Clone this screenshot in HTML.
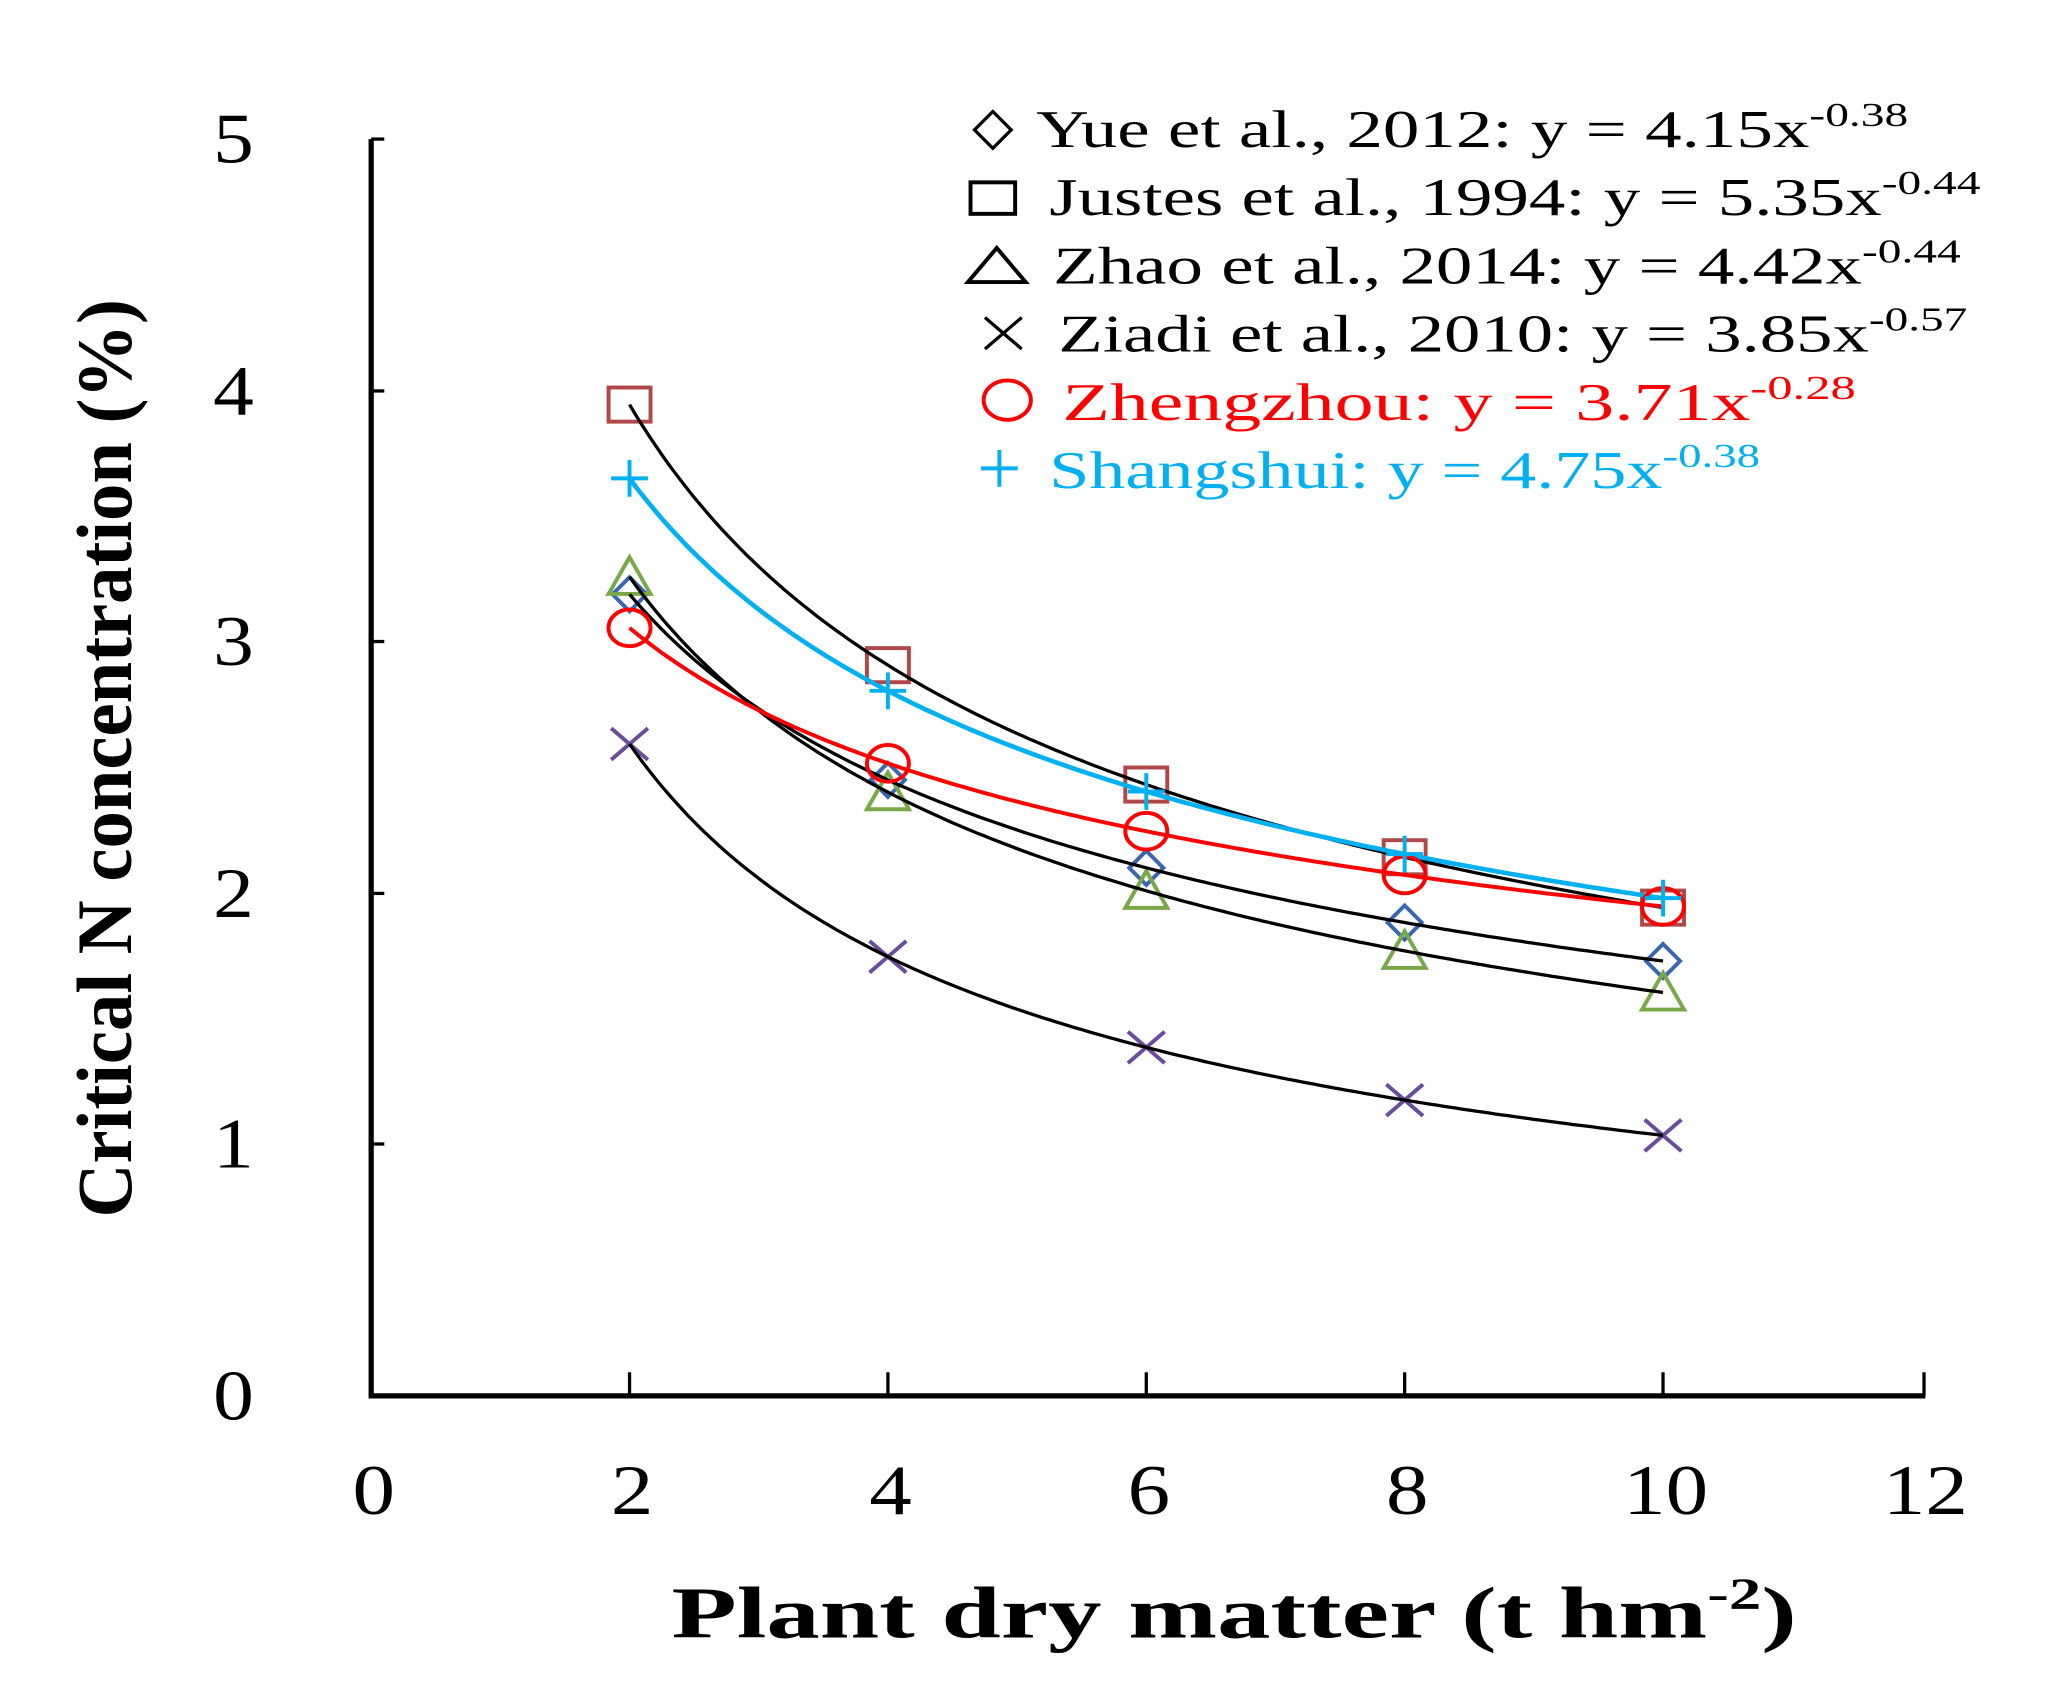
<!DOCTYPE html>
<html><head><meta charset="utf-8"><style>
html,body{margin:0;padding:0;background:#fff;}
svg{display:block;}
text{font-family:"Liberation Serif",serif;}
</style></head><body>
<svg id="s" width="2046" height="1695" viewBox="0 0 1560 1292" preserveAspectRatio="none" xmlns="http://www.w3.org/2000/svg">
<rect width="1560" height="1292" fill="#fff"/>
<path d="M283,106 L283,1064 L1468,1064" fill="none" stroke="#000" stroke-width="4"/>
<g stroke="#000" stroke-width="2.5">
<line x1="283" y1="106" x2="293" y2="106"/>
<line x1="283" y1="298" x2="293" y2="298"/>
<line x1="283" y1="489" x2="293" y2="489"/>
<line x1="283" y1="681" x2="293" y2="681"/>
<line x1="283" y1="872" x2="293" y2="872"/>
<line x1="480" y1="1064" x2="480" y2="1046"/>
<line x1="677" y1="1064" x2="677" y2="1046"/>
<line x1="874" y1="1064" x2="874" y2="1046"/>
<line x1="1071" y1="1064" x2="1071" y2="1046"/>
<line x1="1268" y1="1064" x2="1268" y2="1046"/>
<line x1="1467" y1="1064" x2="1467" y2="1046"/>
</g>
<g font-size="54" text-anchor="middle" fill="#000">
<text x="178" y="124" transform="translate(178 0) scale(1.15 1) translate(-178 0)">5</text>
<text x="178" y="316" transform="translate(178 0) scale(1.15 1) translate(-178 0)">4</text>
<text x="178" y="507" transform="translate(178 0) scale(1.15 1) translate(-178 0)">3</text>
<text x="178" y="699" transform="translate(178 0) scale(1.15 1) translate(-178 0)">2</text>
<text x="178" y="890" transform="translate(178 0) scale(1.15 1) translate(-178 0)">1</text>
<text x="178" y="1082" transform="translate(178 0) scale(1.15 1) translate(-178 0)">0</text>
<text x="285" y="1154" transform="translate(285 0) scale(1.2 1) translate(-285 0)">0</text>
<text x="482" y="1154" transform="translate(482 0) scale(1.2 1) translate(-482 0)">2</text>
<text x="679" y="1154" transform="translate(679 0) scale(1.2 1) translate(-679 0)">4</text>
<text x="876" y="1154" transform="translate(876 0) scale(1.2 1) translate(-876 0)">6</text>
<text x="1073" y="1154" transform="translate(1073 0) scale(1.2 1) translate(-1073 0)">8</text>
<text x="1270" y="1154" transform="translate(1270 0) scale(1.2 1) translate(-1270 0)">10</text>
<text x="1468" y="1154" transform="translate(1468 0) scale(1.2 1) translate(-1468 0)">12</text>
</g>
<text x="512" y="1248" font-size="56" font-weight="bold" textLength="858" lengthAdjust="spacingAndGlyphs">Plant dry matter (t hm<tspan dy="-22" font-size="34">-2</tspan><tspan dy="22">)</tspan></text>
<text transform="translate(100 928) rotate(-90)" x="0" y="0" font-size="60" font-weight="bold" textLength="700" lengthAdjust="spacingAndGlyphs">Critical N concentration (%)</text>
<g id="curves"></g>
<g font-size="40" fill="#000">
<path d="M757,85 L771,99 L757,113 L743,99 Z" fill="none" stroke="#000" stroke-width="2.5"/>
<text x="790" y="112" textLength="665" lengthAdjust="spacingAndGlyphs">Yue et al., 2012: y = 4.15x<tspan dy="-16" font-size="26">-0.38</tspan></text>
<rect x="740" y="139" width="34" height="24" fill="none" stroke="#000" stroke-width="3"/>
<text x="800" y="164" textLength="710" lengthAdjust="spacingAndGlyphs">Justes et al., 1994: y = 5.35x<tspan dy="-16" font-size="26">-0.44</tspan></text>
<path d="M738,215 L760,189 L782,215 Z" fill="none" stroke="#000" stroke-width="3"/>
<text x="803" y="216" textLength="692" lengthAdjust="spacingAndGlyphs">Zhao et al., 2014: y = 4.42x<tspan dy="-16" font-size="26">-0.44</tspan></text>
<path d="M751,242 L779,266 M779,242 L751,266" stroke="#000" stroke-width="2.5"/>
<text x="807" y="268" textLength="693" lengthAdjust="spacingAndGlyphs">Ziadi  et al., 2010: y = 3.85x<tspan dy="-16" font-size="26">-0.57</tspan></text>
<ellipse cx="768" cy="305" rx="18" ry="15" fill="none" stroke="#f00" stroke-width="3"/>
<text x="810" y="320" fill="#f00" textLength="605" lengthAdjust="spacingAndGlyphs">Zhengzhou:     y = 3.71x<tspan dy="-16" font-size="26">-0.28</tspan></text>
<path d="M748,357 L776,357 M762,343 L762,371" stroke="#00b0f0" stroke-width="3"/>
<text x="800" y="372" fill="#00b0f0" textLength="542" lengthAdjust="spacingAndGlyphs">Shangshui:  y = 4.75x<tspan dy="-16" font-size="26">-0.38</tspan></text>
</g>
</svg>
<script>
(function(){
var px=function(v){return 283+98.5*v;}, py=function(v){return 1064-191.6*v;};
var g=document.getElementById('curves');
var NS='http://www.w3.org/2000/svg';
function curve(a,b,col,w){var d='';for(var x=2;x<=10.001;x+=0.05){d+=(d?'L':'M')+px(x).toFixed(1)+','+py(a*Math.pow(x,b)).toFixed(1);}
var p=document.createElementNS(NS,'path');p.setAttribute('d',d);p.setAttribute('fill','none');p.setAttribute('stroke',col);p.setAttribute('stroke-width',w);g.appendChild(p);}
function mk(type,a,b,col){for(var x=2;x<=10;x+=2){var X=px(x),Y=py(a*Math.pow(x,b));var e;
if(type=='d'){e=document.createElementNS(NS,'path');e.setAttribute('d','M'+X+','+(Y-13)+'L'+(X+13)+','+Y+'L'+X+','+(Y+13)+'L'+(X-13)+','+Y+'Z');}
else if(type=='s'){e=document.createElementNS(NS,'rect');e.setAttribute('x',X-16);e.setAttribute('y',Y-13);e.setAttribute('width',32);e.setAttribute('height',26);}
else if(type=='t'){e=document.createElementNS(NS,'path');e.setAttribute('d','M'+(X-16)+','+(Y+13)+'L'+X+','+(Y-15)+'L'+(X+16)+','+(Y+13)+'Z');}
else if(type=='x'){e=document.createElementNS(NS,'path');e.setAttribute('d','M'+(X-14)+','+(Y-12)+'L'+(X+14)+','+(Y+12)+'M'+(X+14)+','+(Y-12)+'L'+(X-14)+','+(Y+12));}
else if(type=='c'){e=document.createElementNS(NS,'ellipse');e.setAttribute('cx',X);e.setAttribute('cy',Y);e.setAttribute('rx',16);e.setAttribute('ry',14);}
else {e=document.createElementNS(NS,'path');e.setAttribute('d','M'+(X-14)+','+Y+'L'+(X+14)+','+Y+'M'+X+','+(Y-14)+'L'+X+','+(Y+14));}
e.setAttribute('fill','none');e.setAttribute('stroke',col);e.setAttribute('stroke-width',3);g.appendChild(e);}}
mk('s',5.35,-0.44,'#b04848');
mk('d',4.15,-0.38,'#3a66b0');
mk('t',4.42,-0.44,'#78a848');
mk('x',3.85,-0.57,'#6a4c9c');
curve(5.35,-0.44,'#000',2.5);
curve(4.15,-0.38,'#000',2.5);
curve(4.42,-0.44,'#000',2.5);
curve(3.85,-0.57,'#000',2.5);
curve(3.71,-0.28,'#f00',3);
curve(4.75,-0.38,'#00b0f0',3.5);
mk('c',3.71,-0.28,'#f00');
mk('p',4.75,-0.38,'#00b0f0');
})();
</script>
</body></html>
